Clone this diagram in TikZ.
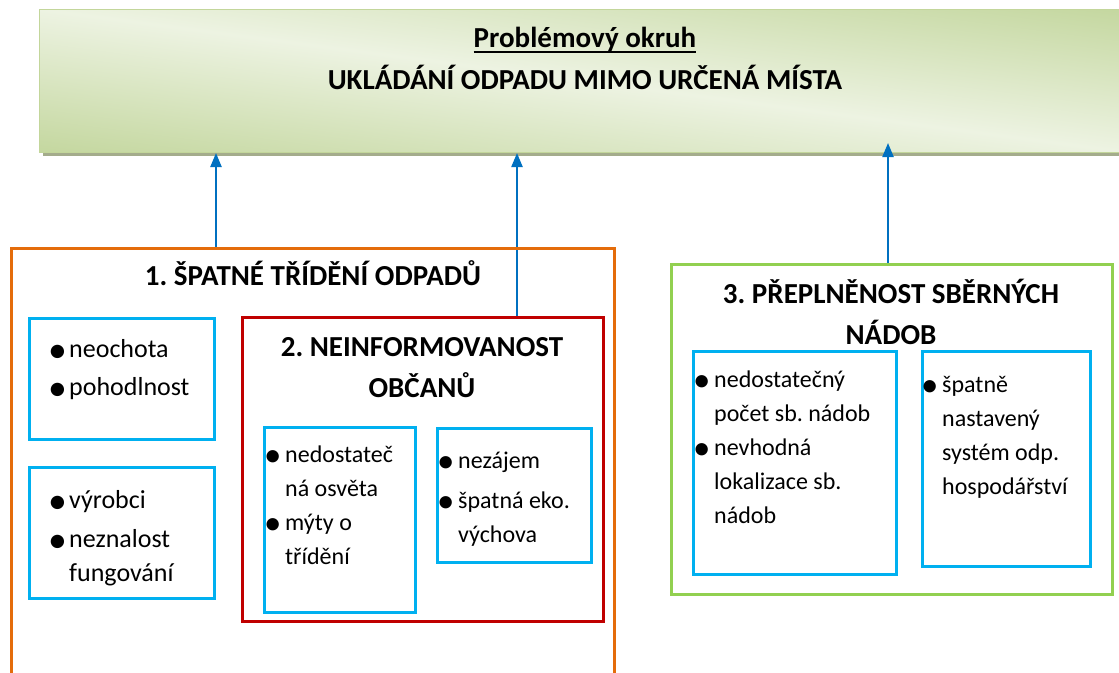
\documentclass[tikz,border=0pt]{standalone}
\usepackage{fontspec}
\setmainfont{Carlito}
\usepackage{graphicx}
\usetikzlibrary{arrows.meta}
\frenchspacing
\definecolor{okrArrow}{HTML}{0070C0}
\definecolor{okrCyan}{HTML}{00B0F0}
\definecolor{okrOrange}{HTML}{E46C0A}
\definecolor{okrRed}{HTML}{C00000}
\definecolor{okrGreen}{HTML}{92D050}
\definecolor{okrBandDark}{HTML}{C4D79F}
\definecolor{okrBandLight}{HTML}{EDF3E2}
\definecolor{okrBandLine}{HTML}{C3D69B}
\definecolor{okrShadow}{HTML}{A4AC8C}
\newcommand{\bitem}[1]{\makebox[21pt][l]{\raisebox{-0.2em}{\scalebox{1.45}{\textbullet}}}#1}
\newcommand{\bcont}[1]{\hspace*{21pt}#1}
\tikzset{
  okrFrame/.style={draw,line width=3pt,anchor=north west,inner sep=0pt},
  okrCause/.style={okrFrame,draw=okrCyan},
  okrBanner/.style={draw=okrBandLine,line width=1pt,anchor=north west,inner sep=0pt},
  okrBand/.style={top color=okrBandDark,bottom color=okrBandDark,middle color=okrBandLight},
  okrTitle/.style={anchor=base,inner sep=0pt,font=\fontsize{29}{41}\selectfont\bfseries},
  okrList/.style={anchor=base west,inner sep=0pt,font=\fontsize{24}{34}\selectfont},
  okrListBig/.style={okrList,font=\fontsize{26}{34}\selectfont},
  okrArrowLine/.style={-{Triangle[length=14pt,width=11pt]},line width=2.2pt,draw=okrArrow}
}
\begin{document}
\begin{tikzpicture}[x=1pt,y=-1pt]
\useasboundingbox (0,0) rectangle (1119,672);
\clip (0,0) rectangle (1119,672);
% problemovy okruh
\fill[okrShadow] (43,13) rectangle (1130,156);
\begin{scope}
  \clip (39,9) rectangle (1129,152);
  \begin{scope}[transform canvas={yslant=-0.1312}]
    \shade[okrBand] (39,-139) rectangle (1129,147);
  \end{scope}
\end{scope}
\node[okrBanner,minimum width=1090pt,minimum height=143pt] (okruh) at (39,9) {};
\node[okrTitle] (okruhNadpis) at (585,47) {Problémový okruh};
\draw[line width=2pt] ([yshift=-5pt]okruhNadpis.base west) -- ([yshift=-5pt]okruhNadpis.base east);
\node[okrTitle] (okruhText) at (585,89) {UKLÁDÁNÍ ODPADU MIMO URČENÁ MÍSTA};
% sipky
\coordinate (pata1) at (216,247);
\coordinate (pata2) at (517,316);
\coordinate (pata3) at (888,263);
\coordinate (hrot3) at (888,143);
\draw[okrArrowLine] (pata1) -- (pata1 |- okruh.south);
\draw[okrArrowLine] (pata2) -- (pata2 |- okruh.south);
\draw[okrArrowLine] (pata3) -- (hrot3);
% 1. spatne trideni
\node[okrFrame,draw=okrOrange,minimum width=603pt,minimum height=460pt] (spatne) at (10,247) {};
\node[okrTitle] (spatneNadpis) at (313,285) {1. ŠPATNÉ TŘÍDĚNÍ ODPADŮ};
\node[okrCause,minimum width=185pt,minimum height=121pt] (neochota) at (28,317) {};
\node[okrListBig] (neochotaText) at (48,357) {\begin{tabular}[t]{@{}l@{}}
  \bitem{neochota}\\[4pt] \bitem{pohodlnost}\end{tabular}};
\node[okrCause,minimum width=185pt,minimum height=131pt] (vyrobci) at (28,466) {};
\node[okrListBig] (vyrobciText) at (48,508) {\begin{tabular}[t]{@{}l@{}}
  \bitem{výrobci}\\[5pt] \bitem{neznalost}\\ \bcont{fungování}\end{tabular}};
% 2. neinformovanost
\node[okrFrame,draw=okrRed,minimum width=361pt,minimum height=304pt] (neinform) at (241,316) {};
\node[okrTitle] (neinformNadpis) at (422,356) {\begin{tabular}[t]{@{}c@{}}
  2. NEINFORMOVANOST\\ OBČANŮ\end{tabular}};
\node[okrCause,minimum width=151pt,minimum height=185pt] (osveta) at (263,426) {};
\node[okrList] (osvetaText) at (264,462) {\begin{tabular}[t]{@{}l@{}}
  \bitem{nedostateč}\\ \bcont{ná osvěta}\\ \bitem{mýty o}\\ \bcont{třídění}\end{tabular}};
\node[okrCause,minimum width=154pt,minimum height=134pt] (nezajem) at (436,427) {};
\node[okrList] (nezajemText) at (437,468) {\begin{tabular}[t]{@{}l@{}}
  \bitem{nezájem}\\[6pt] \bitem{špatná eko.}\\ \bcont{výchova}\end{tabular}};
% 3. preplnenost
\node[okrFrame,draw=okrGreen,minimum width=441pt,minimum height=330pt] (preplnenost) at (670,263) {};
\node[okrCause,minimum width=203pt,minimum height=223pt] (pocet) at (692,350) {};
\node[okrList] (pocetText) at (693,387) {\begin{tabular}[t]{@{}l@{}}
  \bitem{nedostatečný}\\ \bcont{počet sb. nádob}\\ \bitem{nevhodná}\\
  \bcont{lokalizace sb.}\\ \bcont{nádob}\end{tabular}};
\node[okrCause,minimum width=168pt,minimum height=215pt] (system) at (921,350) {};
\node[okrList] (systemText) at (921,392) {\begin{tabular}[t]{@{}l@{}}
  \bitem{špatně}\\ \bcont{nastavený}\\ \bcont{systém odp.}\\ \bcont{hospodářství}\end{tabular}};
\node[okrTitle] (preplnenostNadpis) at (891,303) {\begin{tabular}[t]{@{}c@{}}
  3. PŘEPLNĚNOST SBĚRNÝCH\\ NÁDOB\end{tabular}};
\end{tikzpicture}
\end{document}
